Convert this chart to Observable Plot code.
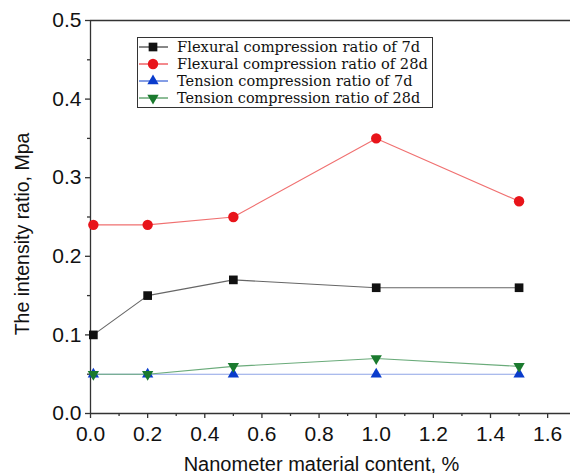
<!DOCTYPE html>
<html><head><meta charset="utf-8">
<script src="https://cdn.jsdelivr.net/npm/d3@7"></script>
<script src="https://cdn.jsdelivr.net/npm/@observablehq/plot@0.6"></script>
<style>
html,body{margin:0;padding:0;background:#fff}
#chart{width:570px;height:473px}
</style>
</head><body><div id="chart"></div>
<script>
// ---- data ----
const content = [0.01, 0.2, 0.5, 1.0, 1.5];
const seriesNames = [
  "Flexural compression ratio of 7d",
  "Flexural compression ratio of 28d",
  "Tension compression ratio of 7d",
  "Tension compression ratio of 28d"
];
const flexural7d  = [0.10, 0.15, 0.17, 0.16, 0.16];
const flexural28d = [0.24, 0.24, 0.25, 0.35, 0.27];
const tension7d   = [0.05, 0.05, 0.05, 0.05, 0.05];
const tension28d  = [0.05, 0.05, 0.06, 0.07, 0.06];
const xTicks = [0.0, 0.2, 0.4, 0.6, 0.8, 1.0, 1.2, 1.4, 1.6];
const xMinorTicks = [0.1, 0.3, 0.5, 0.7, 0.9, 1.1, 1.3, 1.5];
const yTicks = [0.0, 0.1, 0.2, 0.3, 0.4, 0.5];
const yMinorTicks = [0.05, 0.15, 0.25, 0.35, 0.45];
const xLabel = "Nanometer material content, %";
const yLabel = "The intensity ratio, Mpa";

// ---- styles ----
const colors = ["#111111", "#e8141a", "#0a3ccc", "#1a7a2e"];
const lineColors = ["#666666", "#f07070", "#8ea4e6", "#6aab7a"];
const sqrt3 = Math.sqrt(3);
const triangleDown = {
  draw(context, size) {
    const y = -Math.sqrt(size / (sqrt3 * 3));
    context.moveTo(0, -y * 2);
    context.lineTo(-sqrt3 * y, y);
    context.lineTo(sqrt3 * y, y);
    context.closePath();
  }
};
const symbols = ["square", "circle", "triangle", triangleDown];
const radii = [4.9, 5.2, 4.2, 4.2];

const allValues = [flexural7d, flexural28d, tension7d, tension28d];
const data = [];
seriesNames.forEach((name, i) => {
  content.forEach((c, j) => data.push({series: name, idx: i, x: c, y: allValues[i][j]}));
});

const axisColor = "#333333";
const marks = [
  Plot.ruleY([0, 0.5], {stroke: axisColor, strokeWidth: 1.3}),
  Plot.ruleX([0], {stroke: axisColor, strokeWidth: 1.3}),
  Plot.axisX(xTicks, {tickSize: 5, tickPadding: 8, tickFormat: d3.format(".1f"), fontSize: 21, stroke: axisColor, strokeWidth: 1.3, label: null, fill: "#111"}),
  Plot.axisX(xMinorTicks, {tickSize: 3, text: null, stroke: axisColor, strokeWidth: 1.3, label: null}),
  Plot.axisY(yTicks, {tickSize: 5, tickPadding: 4, tickFormat: d3.format(".1f"), fontSize: 21, stroke: axisColor, strokeWidth: 1.3, label: null, fill: "#111"}),
  Plot.axisY(yMinorTicks, {tickSize: 3, text: null, stroke: axisColor, strokeWidth: 1.3, label: null}),
  Plot.text([xLabel], {frameAnchor: "bottom", textAnchor: "middle", lineAnchor: "bottom", dx: -9, dy: 57, fontSize: 20, fill: "#111", text: d => d}),
  Plot.text([yLabel], {frameAnchor: "left", textAnchor: "middle", lineAnchor: "middle", rotate: -90, dx: -68, dy: 17, fontSize: 19.5, fill: "#111", text: d => d})
];
seriesNames.forEach((name, i) => {
  const d = data.filter(r => r.idx === i);
  marks.push(Plot.line(d, {x: "x", y: "y", stroke: lineColors[i], strokeWidth: 1.1}));
});
seriesNames.forEach((name, i) => {
  const d = data.filter(r => r.idx === i);
  marks.push(Plot.dot(d, {x: "x", y: "y", symbol: () => symbols[i], r: radii[i], fill: colors[i], stroke: "none"}));
});

const chart = Plot.plot({
  width: 570,
  height: 473,
  marginLeft: 90,
  marginRight: 0,
  marginTop: 20,
  marginBottom: 60,
  style: {fontFamily: "'Liberation Sans', Arial, sans-serif", background: "#fff", overflow: "visible"},
  x: {domain: [0, 1.68]},
  y: {domain: [0, 0.5]},
  symbol: {type: "identity"},
  marks
});
document.getElementById("chart").appendChild(chart);

// ---- legend (inside plot area, top-left) ----
const svg = d3.select(chart);
const lg = svg.append("g").attr("class", "legend").attr("text-anchor", "start");
const lx = 137, ly = 37, lw = 295, lh = 70, rowH = 17;
lg.append("rect").attr("x", lx + 0.5).attr("y", ly + 0.5).attr("width", lw).attr("height", lh)
  .attr("fill", "#fff").attr("stroke", "#333").attr("stroke-width", 1);
seriesNames.forEach((name, i) => {
  const cy = ly + 10 + i * rowH;
  lg.append("line").attr("x1", lx + 2).attr("x2", lx + 31).attr("y1", cy).attr("y2", cy)
    .attr("stroke", colors[i]).attr("stroke-width", 1);
  const sym = typeof symbols[i] === "string"
    ? d3.symbol(({square: d3.symbolSquare, circle: d3.symbolCircle, triangle: d3.symbolTriangle})[symbols[i]], Math.PI * radii[i] * radii[i])
    : d3.symbol(symbols[i], Math.PI * radii[i] * radii[i]);
  lg.append("path").attr("d", sym()).attr("transform", `translate(${lx + 16},${cy})`).attr("fill", colors[i]);
  lg.append("text").attr("x", lx + 40).attr("y", cy).attr("dy", "0.36em")
    .attr("text-anchor", "start")
    .attr("font-family", "'DejaVu Serif', 'Liberation Serif', serif").attr("font-size", 14)
    .attr("fill", "#111")
    .attr("textLength", name.length * 7.6).attr("lengthAdjust", "spacingAndGlyphs")
    .text(name);
});
</script>
</body></html>
